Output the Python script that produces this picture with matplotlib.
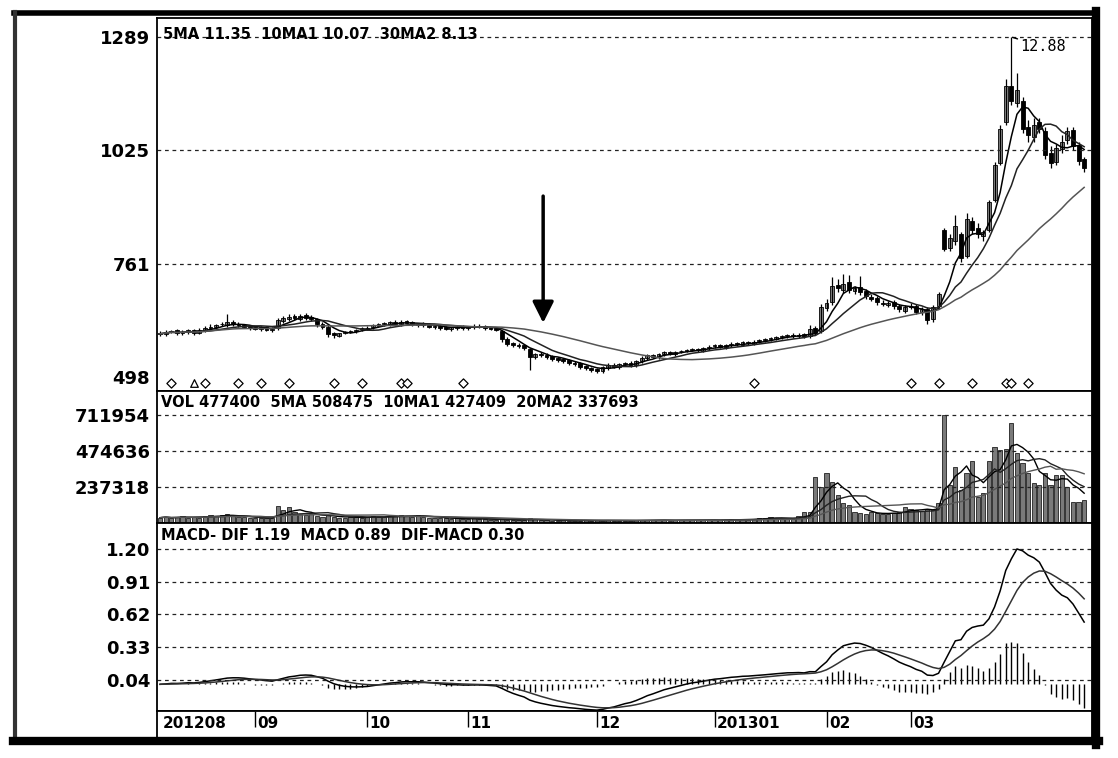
import matplotlib
matplotlib.use('Agg')
import matplotlib.pyplot as plt
from matplotlib.transforms import blended_transform_factory
import numpy as np
import pandas as pd

# daily bars 2012-08 .. 2013-03, one row per month
opens = [
    6.00, 5.97, 6.03, 6.06, 5.99, 6.02, 6.07, 6.01, 6.07, 6.11, 6.14, 6.22, 6.18, 6.26, 6.21, 6.19, 6.16,
    6.13, 6.09, 6.14, 6.07, 6.12, 6.28, 6.33, 6.40, 6.33, 6.42, 6.37, 6.33, 6.22, 6.14, 5.99, 5.94, 6.01, 6.03, 6.04, 6.09,
    6.10, 6.13, 6.17, 6.21, 6.21, 6.26, 6.21, 6.27, 6.25, 6.19, 6.23, 6.19, 6.14, 6.17, 6.13, 6.09, 6.12, 6.16,
    6.11, 6.13, 6.17, 6.16, 6.13, 6.11, 6.05, 5.86, 5.77, 5.73, 5.71, 5.62, 5.44, 5.52, 5.49, 5.46, 5.41, 5.39, 5.36, 5.31, 5.29, 5.23, 5.19,
    5.16, 5.11, 5.19, 5.26, 5.21, 5.27, 5.31, 5.25, 5.34, 5.41, 5.49, 5.44, 5.51, 5.56, 5.51, 5.57, 5.59, 5.61, 5.63, 5.59, 5.64,
    5.69, 5.71, 5.67, 5.71, 5.76, 5.73, 5.79, 5.75, 5.81, 5.83, 5.86, 5.87, 5.91, 5.93, 5.96, 5.92, 5.97, 5.93, 6.12, 6.05,
    6.58, 6.72, 7.12, 7.00, 7.18, 6.98, 7.08, 6.97, 6.84, 6.82, 6.70, 6.66, 6.72, 6.63, 6.52,
    6.62, 6.63, 6.48, 6.56, 6.32, 6.62, 8.40, 7.98, 8.15, 8.30, 7.80, 8.60, 8.45, 8.25, 8.40, 9.10,
    9.95, 10.90, 11.75, 11.35, 11.40, 10.80, 10.55, 10.90, 10.70, 10.20, 9.98, 10.28, 10.50, 10.72, 10.38, 10.05,
]
highs = [
    6.04, 6.06, 6.08, 6.09, 6.06, 6.10, 6.10, 6.12, 6.16, 6.20, 6.22, 6.26, 6.45, 6.30, 6.25, 6.22, 6.19,
    6.16, 6.16, 6.17, 6.13, 6.36, 6.40, 6.44, 6.45, 6.44, 6.46, 6.41, 6.36, 6.25, 6.18, 6.03, 6.00, 6.05, 6.07, 6.09, 6.13,
    6.16, 6.22, 6.24, 6.26, 6.29, 6.30, 6.30, 6.31, 6.28, 6.24, 6.26, 6.23, 6.19, 6.21, 6.16, 6.14, 6.17, 6.19,
    6.17, 6.20, 6.20, 6.19, 6.15, 6.14, 6.08, 5.90, 5.80, 5.76, 5.74, 5.65, 5.54, 5.56, 5.53, 5.49, 5.44, 5.42, 5.39, 5.34, 5.32, 5.26, 5.22,
    5.19, 5.23, 5.29, 5.30, 5.31, 5.33, 5.34, 5.38, 5.46, 5.52, 5.52, 5.54, 5.58, 5.59, 5.59, 5.61, 5.63, 5.65, 5.66, 5.68, 5.71,
    5.74, 5.74, 5.75, 5.78, 5.79, 5.81, 5.82, 5.83, 5.85, 5.88, 5.91, 5.93, 5.95, 5.98, 5.99, 5.99, 6.00, 6.18, 6.16, 6.68,
    6.80, 7.30, 7.25, 7.38, 7.36, 7.10, 7.32, 7.02, 6.90, 6.86, 6.76, 6.74, 6.76, 6.68, 6.66,
    6.70, 6.68, 6.60, 6.60, 6.66, 6.95, 8.45, 8.30, 8.75, 8.35, 8.80, 8.70, 8.55, 8.40, 9.10, 9.98,
    10.85, 11.90, 12.88, 12.05, 11.50, 10.95, 11.00, 11.00, 10.80, 10.35, 10.40, 10.60, 10.80, 10.80, 10.45, 10.10,
]
lows = [
    5.94, 5.93, 5.99, 5.96, 5.95, 5.98, 5.95, 5.97, 6.03, 6.07, 6.10, 6.16, 6.14, 6.16, 6.14, 6.11, 6.08,
    6.06, 6.05, 6.04, 6.03, 6.08, 6.24, 6.29, 6.30, 6.28, 6.31, 6.27, 6.15, 6.10, 5.90, 5.88, 5.90, 5.97, 5.99, 6.00, 6.05,
    6.06, 6.09, 6.13, 6.17, 6.17, 6.18, 6.17, 6.20, 6.16, 6.15, 6.14, 6.11, 6.10, 6.08, 6.06, 6.05, 6.08, 6.08,
    6.07, 6.09, 6.11, 6.08, 6.06, 6.04, 5.80, 5.70, 5.67, 5.65, 5.61, 5.15, 5.40, 5.43, 5.40, 5.35, 5.33, 5.30, 5.25, 5.23, 5.17, 5.13, 5.10,
    5.07, 5.07, 5.15, 5.18, 5.17, 5.23, 5.22, 5.21, 5.30, 5.37, 5.41, 5.40, 5.47, 5.48, 5.47, 5.53, 5.55, 5.57, 5.56, 5.55, 5.60,
    5.65, 5.64, 5.63, 5.67, 5.70, 5.69, 5.72, 5.71, 5.77, 5.79, 5.82, 5.83, 5.87, 5.89, 5.89, 5.88, 5.88, 5.89, 5.95, 6.00,
    6.52, 6.65, 6.95, 6.92, 6.94, 6.90, 6.88, 6.80, 6.74, 6.66, 6.62, 6.60, 6.56, 6.48, 6.46,
    6.55, 6.44, 6.42, 6.20, 6.26, 6.56, 7.90, 7.90, 8.05, 7.65, 7.75, 8.30, 8.20, 8.15, 8.35, 9.05,
    9.90, 10.85, 11.30, 11.25, 10.65, 10.45, 10.45, 10.65, 10.05, 9.85, 9.90, 10.20, 10.40, 10.25, 9.90, 9.75,
]
closes = [
    5.98, 6.02, 6.05, 6.00, 6.03, 6.06, 6.00, 6.08, 6.12, 6.15, 6.18, 6.20, 6.25, 6.20, 6.18, 6.15, 6.12,
    6.10, 6.13, 6.08, 6.10, 6.30, 6.35, 6.38, 6.35, 6.40, 6.36, 6.32, 6.20, 6.15, 5.98, 5.95, 6.00, 6.02, 6.05, 6.08, 6.10,
    6.12, 6.18, 6.20, 6.22, 6.25, 6.22, 6.26, 6.24, 6.20, 6.22, 6.18, 6.15, 6.16, 6.12, 6.10, 6.13, 6.15, 6.12,
    6.14, 6.16, 6.15, 6.12, 6.10, 6.08, 5.85, 5.75, 5.72, 5.70, 5.66, 5.45, 5.50, 5.48, 5.45, 5.40, 5.38, 5.35, 5.30, 5.28, 5.22, 5.18, 5.15,
    5.12, 5.20, 5.25, 5.22, 5.28, 5.30, 5.26, 5.35, 5.42, 5.48, 5.45, 5.50, 5.55, 5.52, 5.56, 5.58, 5.60, 5.62, 5.60, 5.65, 5.68,
    5.70, 5.68, 5.72, 5.75, 5.74, 5.78, 5.76, 5.80, 5.82, 5.85, 5.88, 5.90, 5.92, 5.95, 5.93, 5.96, 5.92, 6.10, 6.00, 6.60,
    6.70, 7.10, 7.05, 7.15, 7.00, 7.05, 6.95, 6.85, 6.80, 6.72, 6.68, 6.70, 6.62, 6.55, 6.60,
    6.60, 6.50, 6.55, 6.30, 6.60, 6.90, 7.95, 8.20, 8.50, 7.75, 8.65, 8.40, 8.30, 8.35, 9.05, 9.90,
    10.75, 11.75, 11.40, 11.65, 10.75, 10.60, 10.85, 10.75, 10.15, 9.95, 10.30, 10.45, 10.70, 10.35, 10.00, 9.85,
]
volumes = [
    35000, 42000, 30000, 38000, 45000, 33000, 40000, 36000, 48000, 52000, 44000, 50000, 60000, 46000, 40000, 38000, 35000,
    32000, 36000, 30000, 34000, 110000, 85000, 108000, 70000, 62000, 55000, 58000, 45000, 40000, 50000, 42000, 36000, 33000, 38000, 40000, 35000,
    38000, 45000, 42000, 40000, 48000, 44000, 50000, 46000, 42000, 55000, 40000, 36000, 34000, 30000, 32000, 28000, 30000, 27000,
    26000, 30000, 25000, 24000, 22000, 20000, 28000, 22000, 20000, 18000, 19000, 32000, 24000, 18000, 17000, 16000, 15000, 18000, 16000, 14000, 15000, 17000, 16000,
    18000, 15000, 17000, 16000, 14000, 15000, 16000, 18000, 20000, 19000, 17000, 18000, 20000, 16000, 17000, 19000, 18000, 20000, 17000, 19000, 21000,
    20000, 18000, 22000, 25000, 21000, 24000, 22000, 28000, 35000, 30000, 40000, 32000, 30000, 28000, 26000, 45000, 75000, 70000, 300000, 237000,
    330000, 270000, 185000, 130000, 120000, 75000, 65000, 60000, 70000, 65000, 58000, 62000, 68000, 70000, 105000,
    95000, 85000, 80000, 90000, 85000, 130000, 711954, 250000, 370000, 218000, 330000, 410000, 170000, 200000, 410000, 500000,
    480000, 490000, 660000, 460000, 395000, 330000, 265000, 250000, 330000, 250000, 315000, 315000, 237000, 140000, 140000, 150000,
]

month_starts = [0, 17, 37, 55, 78, 99, 119, 134]
month_labels = ['201208', '09', '10', '11', '12', '201301', '02', '03']

price_ticks = [4.98, 7.61, 10.25, 12.89]
price_labels = ['498', '761', '1025', '1289']
vol_ticks = [237318, 474636, 711954]
macd_ticks = [0.04, 0.33, 0.62, 0.91, 1.20]

signal_days = [2, 8, 14, 18, 23, 31, 36, 43, 44, 54, 106, 134, 139, 145, 151, 152, 155]
triangle_days = [6]
arrow_day = 68.4

price_title = '5MA 11.35  10MA1 10.07  30MA2 8.13'
vol_title = 'VOL 477400  5MA 508475  10MA1 427409  20MA2 337693'
macd_title = 'MACD- DIF 1.19  MACD 0.89  DIF-MACD 0.30'

FONT = 'DejaVu Sans'

o = np.array(opens)
h = np.array(highs)
l = np.array(lows)
c = np.array(closes)
v = np.array(volumes, dtype=float)
x = np.arange(len(c))

cs = pd.Series(c)
ma5 = cs.rolling(5, min_periods=1).mean()
ma10 = cs.rolling(10, min_periods=1).mean()
ma30 = cs.rolling(30, min_periods=1).mean()

vs = pd.Series(v)
vma5 = vs.rolling(5, min_periods=1).mean()
vma10 = vs.rolling(10, min_periods=1).mean()
vma20 = vs.rolling(20, min_periods=1).mean()

dif = cs.ewm(span=12, adjust=False).mean() - cs.ewm(span=26, adjust=False).mean()
dea = dif.ewm(span=9, adjust=False).mean()
hist = dif - dea

W, H = 1118, 758
fig = plt.figure(figsize=(W / 100, H / 100), dpi=100)


def px_axes(x0, y0, x1, y1):
    return fig.add_axes([x0 / W, 1 - y1 / H, (x1 - x0) / W, (y1 - y0) / H])


ax_p = px_axes(157, 18, 1092, 391)
ax_v = px_axes(157, 391, 1092, 523)
ax_m = px_axes(157, 523, 1092, 711)
ax_d = px_axes(157, 711, 1092, 738)

xlim = (-0.55, 166.4)
for ax in (ax_p, ax_v, ax_m, ax_d):
    ax.set_xlim(*xlim)
    ax.set_xticks([])
    for s in ax.spines.values():
        s.set_color('black')
        s.set_linewidth(1.3)
    ax.tick_params(axis='y', length=0, pad=5)

dash = dict(color='#222222', lw=0.9, ls=(0, (3, 3)))

# price panel
up = c >= o
body = np.maximum(np.abs(c - o), 0.02)
ax_p.vlines(x, l, h, color='black', lw=0.9)
ax_p.bar(x[up], body[up], bottom=np.minimum(o, c)[up], width=0.7,
         color='#8c8c8c', edgecolor='black', linewidth=0.6)
ax_p.bar(x[~up], body[~up], bottom=np.minimum(o, c)[~up], width=0.7,
         color='black', edgecolor='black', linewidth=0.6)
ax_p.plot(x, ma5, color='black', lw=1.1)
ax_p.plot(x, ma10, color='#222222', lw=1.1)
ax_p.plot(x, ma30, color='#555555', lw=1.1)
for t in price_ticks[1:]:
    ax_p.axhline(t, **dash)
ax_p.set_ylim(4.65, 13.33)
ax_p.set_yticks(price_ticks)
ax_p.set_yticklabels(price_labels)

tr = blended_transform_factory(ax_p.transData, ax_p.transAxes)
ax_p.scatter(signal_days, [0.022] * len(signal_days), transform=tr, marker='D', s=22,
             facecolor='white', edgecolor='black', linewidth=0.9, zorder=5)
ax_p.scatter(triangle_days, [0.022] * len(triangle_days), transform=tr, marker='^', s=30,
             facecolor='white', edgecolor='black', linewidth=0.9, zorder=5)

ax_p.annotate('', xy=(arrow_day, 6.17), xytext=(arrow_day, 9.25),
              arrowprops=dict(arrowstyle='-|>', color='black', lw=2.5, mutation_scale=32))

top_i = int(np.argmax(h))
ax_p.annotate('12.88', xy=(top_i + 0.2, h[top_i]), xytext=(top_i + 1.6, h[top_i] - 0.22),
              fontsize=11, family='DejaVu Sans Mono', va='center', ha='left',
              arrowprops=dict(arrowstyle='-', color='black', lw=1.0, shrinkA=0, shrinkB=0))

ax_p.text(0.006, 0.975, price_title, transform=ax_p.transAxes, ha='left', va='top',
          fontsize=10.5, fontweight='bold', family=FONT)

# volume panel
ax_v.bar(x, v, width=0.75, color='#7a7a7a', edgecolor='black', linewidth=0.5)
ax_v.plot(x, vma5, color='black', lw=1.0)
ax_v.plot(x, vma10, color='#222222', lw=1.0)
ax_v.plot(x, vma20, color='#555555', lw=1.0)
for t in vol_ticks:
    ax_v.axhline(t, **dash)
ax_v.set_ylim(0, 870000)
ax_v.set_yticks(vol_ticks)
ax_v.set_yticklabels([str(t) for t in vol_ticks])
ax_v.text(0.004, 0.97, vol_title, transform=ax_v.transAxes, ha='left', va='top',
          fontsize=10.5, fontweight='bold', family=FONT)

# MACD panel
ax_m.vlines(x, 0, hist, color='black', lw=1.0)
ax_m.plot(x, dif, color='black', lw=1.1)
ax_m.plot(x, dea, color='#333333', lw=1.1)
for t in macd_ticks:
    ax_m.axhline(t, **dash)
ax_m.set_ylim(-0.237, 1.432)
ax_m.set_yticks(macd_ticks)
ax_m.set_yticklabels([f'{t:.2f}' for t in macd_ticks])
ax_m.text(0.004, 0.975, macd_title, transform=ax_m.transAxes, ha='left', va='top',
          fontsize=10.5, fontweight='bold', family=FONT)

for ax in (ax_p, ax_v, ax_m):
    for lab in ax.get_yticklabels():
        lab.set_fontweight('bold')
        lab.set_fontsize(13)
        lab.set_family(FONT)

# date strip
ax_d.set_ylim(0, 1)
ax_d.set_yticks([])
ax_d.vlines(month_starts[1:], 0.4, 1, color='black', lw=1.0, transform=ax_d.get_xaxis_transform())
for i, lab in zip(month_starts, month_labels):
    ax_d.text(i + 0.4, 0.55, lab, ha='left', va='center', fontsize=11,
              fontweight='bold', family=FONT)

# outer frame
fig.add_artist(plt.Line2D([14 / W, 1096 / W], [1 - 13 / H, 1 - 13 / H], color='black', lw=4,
                          transform=fig.transFigure))
fig.add_artist(plt.Line2D([15 / W, 15 / W], [1 - 12 / H, 1 - 742 / H], color='#333333', lw=3,
                          transform=fig.transFigure))
fig.add_artist(plt.Line2D([1096 / W, 1096 / W], [1 - 11 / H, 1 - 745 / H], color='black', lw=6,
                          transform=fig.transFigure))
fig.add_artist(plt.Line2D([13 / W, 1099 / W], [1 - 741 / H, 1 - 741 / H], color='black', lw=6,
                          transform=fig.transFigure))

fig.savefig('out.png', dpi=100)
